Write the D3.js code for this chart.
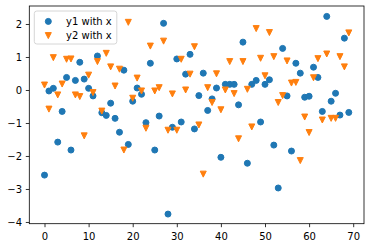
<!DOCTYPE html>
<html><head><meta charset="utf-8">
<script src="https://cdn.jsdelivr.net/npm/d3@7"></script>
<style>body{margin:0;background:#fff}svg{display:block}text{font-family:"DejaVu Sans",sans-serif;font-size:10px;fill:#000}</style>
</head><body>
<svg id="c" width="370" height="248"></svg>
<script>
const xs = d3.range(0, 70);
const y1 = [-2.58,-0.03,0.05,-1.58,-0.65,0.38,-1.82,0.29,0.84,0.33,
 0.05,-0.18,1.03,-0.69,-0.77,-0.40,-0.86,-1.28,0.60,-1.65,
 -0.34,0.06,-0.13,-0.99,0.81,-1.82,-0.79,2.02,-3.76,-1.13,
 0.94,-0.97,0.48,1.08,-1.18,-0.17,0.51,-0.62,-0.27,0.06,
 -2.04,0.17,0.17,0.17,-0.45,1.45,-2.22,0.17,0.29,-0.97,
 0.17,0.31,-1.67,-2.97,1.26,-0.18,-1.85,0.81,0.51,-0.22,
 -0.19,0.69,0.38,-0.65,2.23,-0.34,-0.10,-0.76,1.57,-0.68];
const y2 = [0.15,-0.58,0.98,-0.15,0.18,0.93,0.94,-0.15,-0.20,-1.39,
 0.45,-0.08,0.86,-0.64,1.11,0.70,0.12,0.63,-1.82,2.05,
 -0.25,0.36,-0.03,-1.16,1.33,-0.03,0.07,1.48,-1.22,-0.12,
 -1.22,0.93,0.00,0.48,1.31,-1.06,-2.55,0.07,-0.38,0.49,
 -0.60,0.00,0.86,-0.11,-1.48,0.86,0.02,-1.12,1.86,0.96,
 0.43,1.74,1.01,-0.38,-0.17,0.88,0.21,0.23,-2.14,-0.82,
 -1.29,0.37,0.95,-0.91,1.09,-0.86,-0.86,1.01,0.70,1.73];
const xTicks = [0,10,20,30,40,50,60,70];
const yTicks = [-4,-3,-2,-1,0,1,2];
const labels = ["y1 with x","y2 with x"];
const colors = ["#1f77b4","#ff7f0e"];

const L=29.3, R=364, T=6, B=223.7;
const svg = d3.select("#c");
const x = d3.scaleLinear().domain([-3.45,72.45]).range([L,R]);
const y = d3.scaleLinear().domain([-4.052,2.545]).range([B,T]);

const fmt = d => (d<0?"\u2212":"")+Math.abs(d);

// axes
const gx = svg.append("g").attr("transform",`translate(0,${B})`)
  .call(d3.axisBottom(x).tickValues(xTicks).tickSize(3.5).tickPadding(3.5).tickFormat(fmt));
const gy = svg.append("g").attr("transform",`translate(${L},0)`)
  .call(d3.axisLeft(y).tickValues(yTicks).tickSize(3.5).tickPadding(3.5).tickFormat(fmt));
[gx,gy].forEach(g=>{
  g.select(".domain").remove();
  g.selectAll(".tick line").attr("stroke","#000").attr("stroke-width",0.8);
  g.selectAll(".tick text").attr("font-family","DejaVu Sans").attr("font-size",10).attr("fill","#000");
});
gx.selectAll(".tick text").attr("dy",null).attr("y",16.3);
gy.selectAll(".tick text").attr("dy","0.36em").attr("x",-7.3);

// points
const pts = svg.append("g");
pts.selectAll("circle").data(xs).join("circle")
  .attr("cx",d=>x(d)).attr("cy",(d,i)=>y(y1[i])).attr("r",3)
  .attr("fill",colors[0]).attr("stroke",colors[0]).attr("stroke-width",1);
const tri = "M0,3L-3,-3L3,-3Z";
pts.selectAll("path").data(xs).join("path")
  .attr("d",tri).attr("transform",(d,i)=>`translate(${x(d)},${y(y2[i])})`)
  .attr("fill",colors[1]).attr("stroke",colors[1]).attr("stroke-width",1).attr("stroke-linejoin","miter");

// spines
svg.append("rect").attr("x",L).attr("y",T).attr("width",R-L).attr("height",B-T)
  .attr("fill","none").attr("stroke","#000").attr("stroke-width",0.8);

// legend
const lg = svg.append("g");
lg.append("rect").attr("x",34.3).attr("y",11).attr("width",82.5).attr("height",33)
  .attr("rx",2.5).attr("fill","#fff").attr("fill-opacity",0.8).attr("stroke","#cccccc").attr("stroke-width",0.8);
const rows=[21.4,35.6];
lg.append("circle").attr("cx",48.3).attr("cy",rows[0]).attr("r",3).attr("fill",colors[0]).attr("stroke",colors[0]).attr("stroke-width",1);
lg.append("path").attr("d",tri).attr("transform",`translate(48.3,${rows[1]})`).attr("fill",colors[1]).attr("stroke",colors[1]).attr("stroke-width",1);
labels.forEach((t,i)=>lg.append("text").attr("x",66).attr("y",rows[i]+3.6).text(t));
</script>
</body></html>
